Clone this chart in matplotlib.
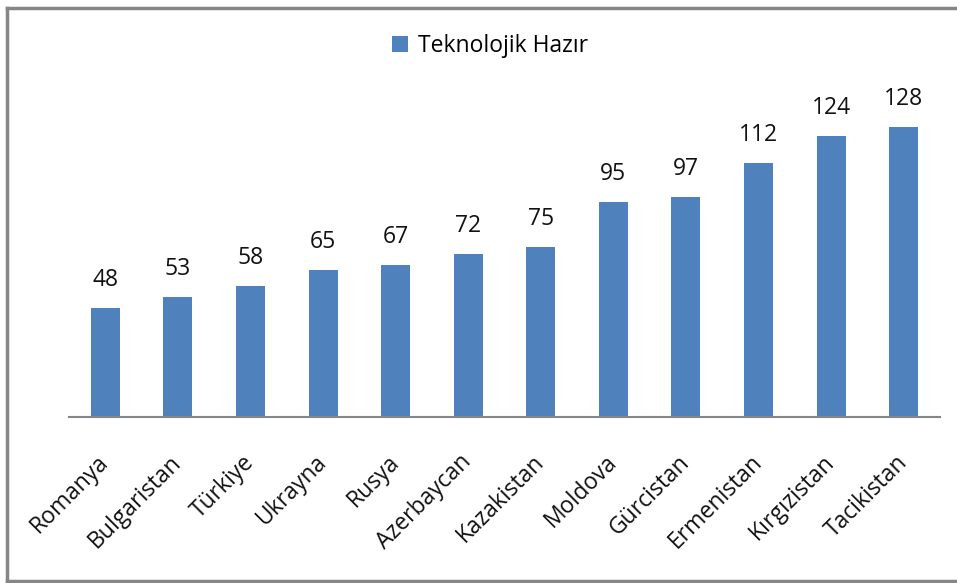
import matplotlib
matplotlib.use("Agg")
import matplotlib.pyplot as plt
from matplotlib.lines import Line2D

# data
countries = ["Romanya", "Bulgaristan", "Türkiye", "Ukrayna", "Rusya", "Azerbaycan",
             "Kazakistan", "Moldova", "Gürcistan", "Ermenistan", "Kırgızistan", "Tacikistan"]
values = [48, 53, 58, 65, 67, 72, 75, 95, 97, 112, 124, 128]
series_name = "Teknolojik Hazır"

plt.rcParams['font.family'] = ['Open Sans', 'DejaVu Sans']

W, H = 957, 583
fig = plt.figure(figsize=(W / 100, H / 100), dpi=100)
ax = fig.add_axes([69 / W, 1 - 417 / H, (940 - 69) / W, (417 - 100) / H])

x = range(len(countries))
bars = ax.bar(x, values, width=0.4, color="#4F81BD", label=series_name)
ax.set_xlim(-0.5, len(countries) - 0.5)
ax.set_ylim(0, 140)

for b, v in zip(bars, values):
    ax.annotate(str(v), (b.get_x() + b.get_width() / 2, v), xytext=(0, 16),
                textcoords="offset pixels", ha="center", va="bottom",
                fontsize=16.5, color="#111111")

ax.set_xticks(list(x))
ax.set_xticklabels(countries, rotation=45, ha="right", va="center",
                   rotation_mode="anchor", fontsize=16.5, color="#111111")
ax.tick_params(axis="x", length=0, pad=30)
ax.set_yticks([])
for s in ["left", "right", "top"]:
    ax.spines[s].set_visible(False)
ax.spines["bottom"].set_color("#868686")
ax.spines["bottom"].set_linewidth(1.5)

fig.legend(handles=[bars], labels=[series_name], loc="center",
           bbox_to_anchor=(490 / W, 1 - 46 / H), frameon=False, fontsize=16.5,
           handlelength=0.7, handleheight=0.7, handletextpad=0.45)

# outer chart border (left, top, bottom)
border_kw = dict(color="#868686", linewidth=2.5, transform=fig.transFigure)
fig.add_artist(Line2D([7.5 / W, 7.5 / W], [1 - 7.5 / H, 1 - 581 / H], **border_kw))
fig.add_artist(Line2D([7.5 / W, 1], [1 - 7.5 / H, 1 - 7.5 / H], **border_kw))
fig.add_artist(Line2D([7.5 / W, 1], [1 - 581 / H, 1 - 581 / H], **border_kw))

fig.savefig("out.png", dpi=100)
